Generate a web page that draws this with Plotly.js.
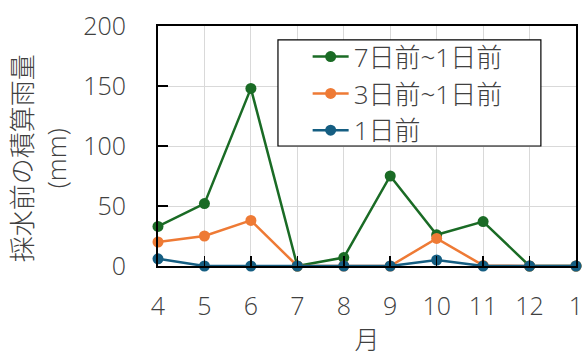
<!DOCTYPE html>
<html>
<head>
<meta charset="utf-8">
<script src="https://cdn.plot.ly/plotly-3.0.1.min.js"></script>
<style>
  html, body { margin: 0; padding: 0; background: #fff; }
  #chart { width: 583px; height: 356px; }
</style>
</head>
<body>
<div id="chart"></div>
<script>
// Months (April to January)
const months = ['4', '5', '6', '7', '8', '9', '10', '11', '12', '1'];

// Accumulated rainfall before sampling (mm)
const rain7to1 = [33, 52, 148, 0, 7, 75, 26, 37, 0, 0];
const rain3to1 = [20, 25, 38, 0, 0, 0, 23, 0.5, 0, 0];
const rain1 = [6, 0, 0, 0, 0, 0, 5, 0, 0, 0];

const seriesNames = ['7日前~1日前', '3日前~1日前', '1日前'];
const seriesColors = ['#1a6b25', '#ee7a35', '#155e82'];
const seriesValues = [rain7to1, rain3to1, rain1];

const yTitle = '採水前の積算雨量<br>(mm)';
const xTitle = '月';

const FONT = '"Open Sans", "Noto Sans CJK JP", sans-serif';
const TEXT = '#404040';
const txt = (size) => ({ family: FONT, size: size, color: TEXT, weight: 300 });

const traces = seriesValues.map((vals, i) => ({
  type: 'scatter',
  mode: 'lines+markers',
  x: months,
  y: vals,
  name: seriesNames[i],
  line: { color: seriesColors[i], width: 2.5 },
  marker: { color: seriesColors[i], size: 11 },
  cliponaxis: false
}));

const layout = {
  width: 583,
  height: 356,
  margin: { l: 158, r: 7, t: 26, b: 90 },
  paper_bgcolor: '#fff',
  plot_bgcolor: '#fff',
  font: txt(24),
  showlegend: true,
  legend: {
    x: 0.358, xanchor: 'left',
    y: 0.97, yanchor: 'top',
    bgcolor: 'rgba(0,0,0,0)',
    borderwidth: 0,
    font: txt(26),
    itemwidth: 36,
    tracegroupgap: 0
  },
  // legend frame
  shapes: [{
    type: 'rect', xref: 'paper', yref: 'paper',
    x0: 0.287, x1: 0.916, y0: 0.5, y1: 0.942,
    fillcolor: '#fff',
    line: { color: '#000', width: 1.2 },
    layer: 'above'
  }],
  annotations: [{
    text: yTitle,
    xref: 'paper', yref: 'paper',
    x: -0.284, y: 0.45,
    xanchor: 'center', yanchor: 'middle',
    textangle: -90,
    showarrow: false,
    font: txt(26)
  }],
  xaxis: {
    type: 'category',
    range: [0, 9],
    showgrid: true,
    gridcolor: '#d9d9d9',
    gridwidth: 1,
    showline: true,
    linecolor: '#000',
    linewidth: 2,
    mirror: true,
    ticks: 'inside',
    ticklen: 10,
    tickcolor: '#000',
    tickwidth: 1.5,
    ticklabelstandoff: 17,
    tickfont: txt(25),
    zeroline: false,
    title: { text: xTitle, standoff: 13, font: txt(25) }
  },
  yaxis: {
    range: [0, 200],
    dtick: 50,
    showgrid: true,
    gridcolor: '#d9d9d9',
    gridwidth: 1,
    showline: true,
    linecolor: '#000',
    linewidth: 2,
    mirror: true,
    ticks: 'inside',
    ticklen: 10,
    tickcolor: '#000',
    tickwidth: 1.5,
    ticklabelstandoff: 25,
    tickfont: txt(25),
    zeroline: false
  }
};

Plotly.newPlot('chart', traces, layout, { displayModeBar: false, staticPlot: true });
</script>
</body>
</html>
